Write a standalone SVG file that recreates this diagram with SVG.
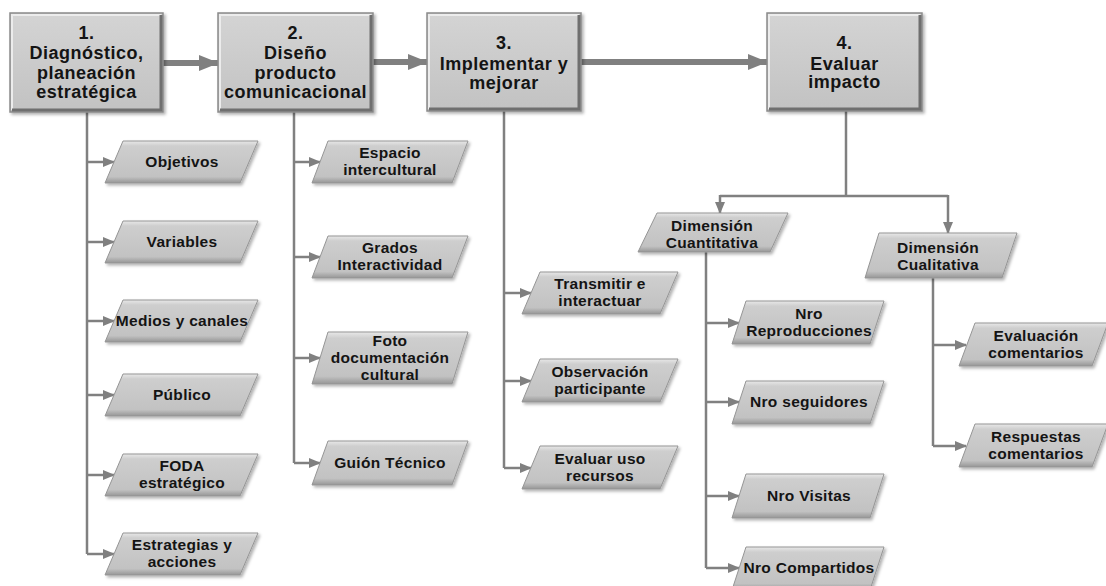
<svg xmlns="http://www.w3.org/2000/svg" width="1106" height="586" viewBox="0 0 1106 586">
<defs>
<linearGradient id="boxg" x1="0" y1="0" x2="0" y2="1">
<stop offset="0" stop-color="#d4d4d4"/><stop offset="1" stop-color="#c2c2c2"/>
</linearGradient>
<linearGradient id="parg" x1="0" y1="0" x2="0" y2="1">
<stop offset="0" stop-color="#e8e8e8"/><stop offset="0.12" stop-color="#cecece"/><stop offset="0.85" stop-color="#c2c2c2"/><stop offset="1" stop-color="#969696"/>
</linearGradient>
<filter id="sh" x="-10%" y="-10%" width="130%" height="140%">
<feDropShadow dx="2" dy="2" stdDeviation="1.5" flood-color="#000" flood-opacity="0.3"/>
</filter>
<marker id="ah" markerUnits="userSpaceOnUse" markerWidth="12" markerHeight="10" refX="11" refY="5" orient="auto">
<path d="M0,0 L12,5 L0,10 Z" fill="#808080"/>
</marker>
<marker id="ahBig" markerUnits="userSpaceOnUse" markerWidth="20" markerHeight="16" refX="19" refY="8" orient="auto">
<path d="M0,0 L20,8 L0,16 Z" fill="#808080"/>
</marker>
</defs>
<style>
.box{fill:url(#boxg);stroke:#8a8a8a;stroke-width:1.5;filter:url(#sh)}
.hl{fill:none;stroke:#ececec;stroke-width:2}
.dk{fill:none;stroke:#6f6f6f;stroke-width:3}
.par{fill:url(#parg);stroke:#959595;stroke-width:1;filter:url(#sh)}
.t1{font-family:"Liberation Sans",Arial,sans-serif;font-weight:bold;font-size:18px;letter-spacing:0.5px;fill:#141414;text-anchor:middle}
.t2{font-family:"Liberation Sans",Arial,sans-serif;font-weight:bold;font-size:15.5px;letter-spacing:0.3px;fill:#141414;text-anchor:middle}
.main{fill:none;stroke:#808080;stroke-width:6}
.br{fill:none;stroke:#808080;stroke-width:2.5}
</style>

<g id="connectors">
<line class="main" x1="163" y1="63" x2="218" y2="63" marker-end="url(#ahBig)"/>
<line class="main" x1="373" y1="62" x2="427" y2="62" marker-end="url(#ahBig)"/>
<line class="main" x1="581" y1="62" x2="767" y2="62" marker-end="url(#ahBig)"/>
<line class="br" x1="87" y1="112" x2="87" y2="554"/>
<line class="br" x1="87" y1="162" x2="114" y2="162" marker-end="url(#ah)"/>
<line class="br" x1="87" y1="242" x2="114" y2="242" marker-end="url(#ah)"/>
<line class="br" x1="87" y1="321" x2="114" y2="321" marker-end="url(#ah)"/>
<line class="br" x1="87" y1="395" x2="114" y2="395" marker-end="url(#ah)"/>
<line class="br" x1="87" y1="475" x2="114" y2="475" marker-end="url(#ah)"/>
<line class="br" x1="87" y1="554" x2="114" y2="554" marker-end="url(#ah)"/>
<line class="br" x1="294" y1="112" x2="294" y2="463"/>
<line class="br" x1="294" y1="162" x2="320" y2="162" marker-end="url(#ah)"/>
<line class="br" x1="294" y1="257" x2="320" y2="257" marker-end="url(#ah)"/>
<line class="br" x1="294" y1="358" x2="320" y2="358" marker-end="url(#ah)"/>
<line class="br" x1="294" y1="463" x2="320" y2="463" marker-end="url(#ah)"/>
<line class="br" x1="504" y1="111" x2="504" y2="468"/>
<line class="br" x1="504" y1="293" x2="531" y2="293" marker-end="url(#ah)"/>
<line class="br" x1="504" y1="381" x2="531" y2="381" marker-end="url(#ah)"/>
<line class="br" x1="504" y1="468" x2="531" y2="468" marker-end="url(#ah)"/>
<line class="br" x1="846" y1="111" x2="846" y2="196"/>
<line class="br" x1="720" y1="196" x2="948" y2="196"/>
<line class="br" x1="720" y1="195" x2="720" y2="213" marker-end="url(#ah)"/>
<line class="br" x1="948" y1="195" x2="948" y2="233" marker-end="url(#ah)"/>
<line class="br" x1="706" y1="252" x2="706" y2="568"/>
<line class="br" x1="706" y1="323" x2="739" y2="323" marker-end="url(#ah)"/>
<line class="br" x1="706" y1="402" x2="739" y2="402" marker-end="url(#ah)"/>
<line class="br" x1="706" y1="496" x2="739" y2="496" marker-end="url(#ah)"/>
<line class="br" x1="706" y1="568" x2="739" y2="568" marker-end="url(#ah)"/>
<line class="br" x1="933" y1="278" x2="933" y2="446"/>
<line class="br" x1="933" y1="345" x2="966" y2="345" marker-end="url(#ah)"/>
<line class="br" x1="933" y1="446" x2="966" y2="446" marker-end="url(#ah)"/>
</g>

<g id="box1">
<rect class="box" x="10" y="13" width="153" height="99"/>
<polyline class="hl" points="12,110 12,15 161,15"/>
<polyline class="dk" points="161,15 161,110 12,110"/>
<text class="t1" x="86.5" y="39">1.</text>
<text class="t1" x="86.5" y="59">Diagnóstico,</text>
<text class="t1" x="86.5" y="79">planeación</text>
<text class="t1" x="86.5" y="98">estratégica</text>
</g>
<g id="box2">
<rect class="box" x="218" y="13" width="155" height="99"/>
<polyline class="hl" points="220,110 220,15 371,15"/>
<polyline class="dk" points="371,15 371,110 220,110"/>
<text class="t1" x="295.5" y="39">2.</text>
<text class="t1" x="295.5" y="59">Diseño</text>
<text class="t1" x="295.5" y="79">producto</text>
<text class="t1" x="295.5" y="98">comunicacional</text>
</g>
<g id="box3">
<rect class="box" x="427" y="13" width="154" height="98"/>
<polyline class="hl" points="429,109 429,15 579,15"/>
<polyline class="dk" points="579,15 579,109 429,109"/>
<text class="t1" x="504" y="49">3.</text>
<text class="t1" x="504" y="70">Implementar y</text>
<text class="t1" x="504" y="89">mejorar</text>
</g>
<g id="box4">
<rect class="box" x="767" y="13" width="155" height="98"/>
<polyline class="hl" points="769,109 769,15 920,15"/>
<polyline class="dk" points="920,15 920,109 769,109"/>
<text class="t1" x="844.5" y="49">4.</text>
<text class="t1" x="844.5" y="70">Evaluar</text>
<text class="t1" x="844.5" y="88">impacto</text>
</g>

<g id="objetivos">
<polygon class="par" points="123,141 258,141 240,183 105,183"/>
<text class="t2" x="182" y="167">Objetivos</text>
</g>
<g id="variables">
<polygon class="par" points="123,221 258,221 240,263 105,263"/>
<text class="t2" x="182" y="247">Variables</text>
</g>
<g id="medios">
<polygon class="par" points="123,300 258,300 240,342 105,342"/>
<text class="t2" x="182" y="326">Medios y canales</text>
</g>
<g id="publico">
<polygon class="par" points="123,374 258,374 240,416 105,416"/>
<text class="t2" x="182" y="400">Público</text>
</g>
<g id="foda">
<polygon class="par" points="123,454 258,454 240,496 105,496"/>
<text class="t2" x="182" y="471">FODA</text>
<text class="t2" x="182" y="488">estratégico</text>
</g>
<g id="estrategias">
<polygon class="par" points="123,533 258,533 240,575 105,575"/>
<text class="t2" x="182" y="550">Estrategias y</text>
<text class="t2" x="182" y="567">acciones</text>
</g>

<g id="espacio">
<polygon class="par" points="328,141 468,141 452,183 312,183"/>
<text class="t2" x="390" y="158">Espacio</text>
<text class="t2" x="390" y="175">intercultural</text>
</g>
<g id="grados">
<polygon class="par" points="328,236 468,236 452,278 312,278"/>
<text class="t2" x="390" y="253">Grados</text>
<text class="t2" x="390" y="270">Interactividad</text>
</g>
<g id="foto">
<polygon class="par" points="328,332 468,332 452,384 312,384"/>
<text class="t2" x="390" y="346">Foto</text>
<text class="t2" x="390" y="363">documentación</text>
<text class="t2" x="390" y="380">cultural</text>
</g>
<g id="guion">
<polygon class="par" points="328,441 468,441 452,485 312,485"/>
<text class="t2" x="390" y="468">Guión Técnico</text>
</g>

<g id="transmitir">
<polygon class="par" points="540,272 678,272 660,314 522,314"/>
<text class="t2" x="600" y="289">Transmitir e</text>
<text class="t2" x="600" y="306">interactuar</text>
</g>
<g id="observacion">
<polygon class="par" points="540,359 678,359 660,402 522,402"/>
<text class="t2" x="600" y="377">Observación</text>
<text class="t2" x="600" y="394">participante</text>
</g>
<g id="evaluaruso">
<polygon class="par" points="540,446 678,446 660,489 522,489"/>
<text class="t2" x="600" y="464">Evaluar uso</text>
<text class="t2" x="600" y="481">recursos</text>
</g>

<g id="cuantitativa">
<polygon class="par" points="657,213 788,213 770,252 638,252"/>
<text class="t2" x="712" y="231">Dimensión</text>
<text class="t2" x="712" y="248">Cuantitativa</text>
</g>
<g id="cualitativa">
<polygon class="par" points="879,233 1017,233 1002,278 865,278"/>
<text class="t2" x="938" y="253">Dimensión</text>
<text class="t2" x="938" y="270">Cualitativa</text>
</g>

<g id="reproducciones">
<polygon class="par" points="746,301 884,301 870,344 732,344"/>
<text class="t2" x="809" y="319">Nro</text>
<text class="t2" x="809" y="336">Reproducciones</text>
</g>
<g id="seguidores">
<polygon class="par" points="746,381 884,381 870,424 732,424"/>
<text class="t2" x="809" y="407">Nro seguidores</text>
</g>
<g id="visitas">
<polygon class="par" points="746,474 884,474 870,518 732,518"/>
<text class="t2" x="809" y="501">Nro Visitas</text>
</g>
<g id="compartidos">
<polygon class="par" points="746,547 884,547 870,590 732,590"/>
<text class="t2" x="809" y="573">Nro Compartidos</text>
</g>

<g id="evaluacion">
<polygon class="par" points="975,323 1108,323 1092,366 959,366"/>
<text class="t2" x="1036" y="341">Evaluación</text>
<text class="t2" x="1036" y="358">comentarios</text>
</g>
<g id="respuestas">
<polygon class="par" points="975,424 1108,424 1092,467 959,467"/>
<text class="t2" x="1036" y="442">Respuestas</text>
<text class="t2" x="1036" y="459">comentarios</text>
</g>
</svg>
